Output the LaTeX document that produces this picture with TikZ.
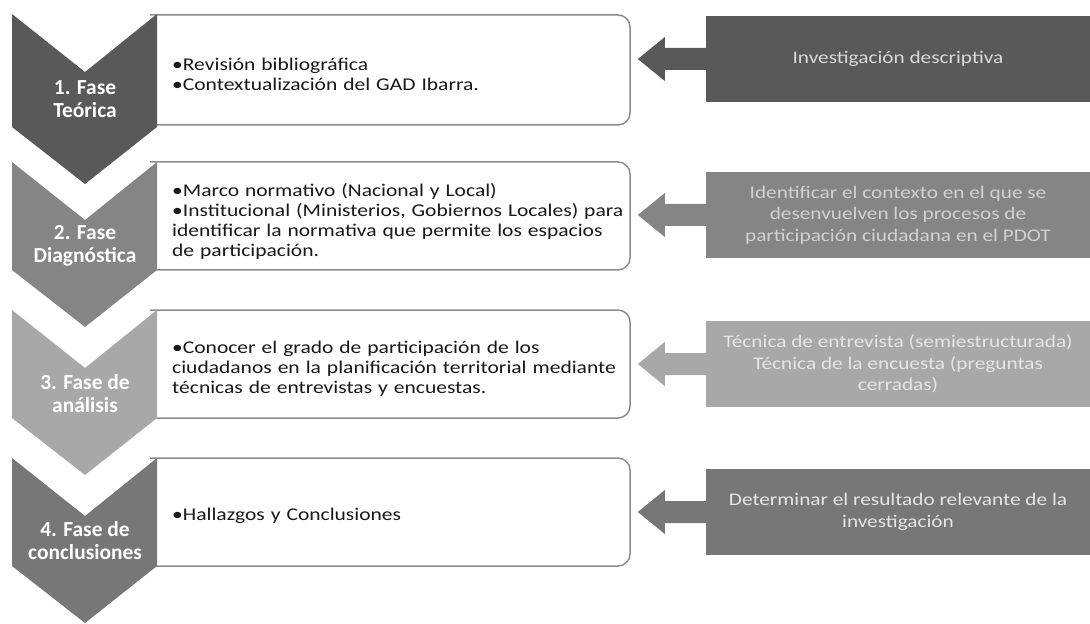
\documentclass[tikz,border=0pt]{standalone}
\usepackage{fontspec}
\setmainfont{Carlito}
\newfontfamily\ancha{Carlito}[FakeStretch=1.2]
\usetikzlibrary{calc}

\definecolor{grisA}{HTML}{595959}
\definecolor{grisB}{HTML}{858585}
\definecolor{grisC}{HTML}{A8A8A8}
\definecolor{grisD}{HTML}{777777}
\definecolor{borde}{HTML}{8C8C8C}

\newlength{\anchobala}
\newcommand{\punto}{\par\settowidth{\anchobala}{\textbullet}\hangindent=\anchobala\hangafter=1\noindent\textbullet}

\tikzset{
    fase/.style = {align=center, text=white, inner sep=0pt, font=\fontsize{21.5}{23}\selectfont\bfseries},
    caja/.style = {draw=borde, line width=1.5bp, fill=white, rounded corners=12bp},
    lista/.style = {anchor=west, align=left, text width=458bp, inner sep=0pt, text=black!90, font=\ancha\fontsize{18}{20}\selectfont},
    metodo/.style = {fill=#1, minimum width=384bp, minimum height=86bp, inner sep=0pt, align=center, font=\ancha\fontsize{17.8}{21.5}\selectfont},
    flecha/.style = {fill=#1},
}

\begin{document}
\begin{tikzpicture}[x=1bp, y=-1bp]
    \useasboundingbox (0,0) rectangle (1090,624);

    % cajas de contenido
    \filldraw[caja] (150,15) -- (630,15) -- (630,125) -- (150,125);
    \filldraw[caja] (150,162) -- (630,162) -- (630,270) -- (150,270);
    \filldraw[caja] (150,310) -- (630,310) -- (630,418) -- (150,418);
    \filldraw[caja] (150,458) -- (630,458) -- (630,566) -- (150,566);

    % chevrones de las fases
    \fill[grisA] (12,14) -- (85,72) -- (157,14) -- (157,127) -- (85,184) -- (12,127) -- cycle;
    \fill[grisB] (12,162) -- (85,220) -- (157,162) -- (157,270) -- (85,327) -- (12,270) -- cycle;
    \fill[grisC] (12,310) -- (85,368) -- (157,310) -- (157,418) -- (85,475) -- (12,418) -- cycle;
    \fill[grisD] (12,458) -- (85,516) -- (157,458) -- (157,566) -- (85,623) -- (12,566) -- cycle;

    \node[fase] (fase1) at (85,99) {1. Fase\\Teórica};
    \node[fase] (fase2) at (85,246) {2. Fase\\Diagnóstica};
    \node[fase] (fase3) at (85,394) {3. Fase de\\análisis};
    \node[fase] (fase4) at (85,541) {4. Fase de\\conclusiones};

    \node[lista] (cont1) at (172,71) {\punto Revisión bibliográfica
        \punto Contextualización del GAD Ibarra.};
    \node[lista] (cont2) at (172,218) {\punto Marco normativo (Nacional y Local)
        \punto Institucional (Ministerios, Gobiernos Locales) para\\identificar la normativa que permite los espacios\\de participación.};
    \node[lista] (cont3) at (172,365) {\punto Conocer el grado de participación de los\\ciudadanos en la planificación territorial mediante\\técnicas de entrevistas y encuestas.};
    \node[lista] (cont4) at (172,512) {\punto Hallazgos y Conclusiones};

    % metodos
    \node[metodo=grisA, text=black!15] (met1) at (898,59) {Investigación descriptiva};
    \node[metodo=grisB, text=black!18] (met2) at (898,215) {Identificar el contexto en el que se\\desenvuelven los procesos de\\participación ciudadana en el PDOT};
    \node[metodo=grisC, text=black!10] (met3) at (898,364) {Técnica de entrevista (semiestructurada)\\Técnica de la encuesta (preguntas\\cerradas)};
    \node[metodo=grisD, text=black!10] (met4) at (898,512) {Determinar el resultado relevante de la\\investigación};

    % flechas de bloque
    \fill[flecha=grisA] ($(met1.west)+(1,-11)$) -- ++(-42,0) -- ++(0,-11) -- ++(-27,22) -- ++(27,22) -- ++(0,-11) -- ++(42,0) -- cycle;
    \fill[flecha=grisB] ($(met2.west)+(1,-11)$) -- ++(-42,0) -- ++(0,-11) -- ++(-27,22) -- ++(27,22) -- ++(0,-11) -- ++(42,0) -- cycle;
    \fill[flecha=grisC] ($(met3.west)+(1,-11)$) -- ++(-42,0) -- ++(0,-11) -- ++(-27,22) -- ++(27,22) -- ++(0,-11) -- ++(42,0) -- cycle;
    \fill[flecha=grisD] ($(met4.west)+(1,-11)$) -- ++(-42,0) -- ++(0,-11) -- ++(-27,22) -- ++(27,22) -- ++(0,-11) -- ++(42,0) -- cycle;
\end{tikzpicture}
\end{document}
